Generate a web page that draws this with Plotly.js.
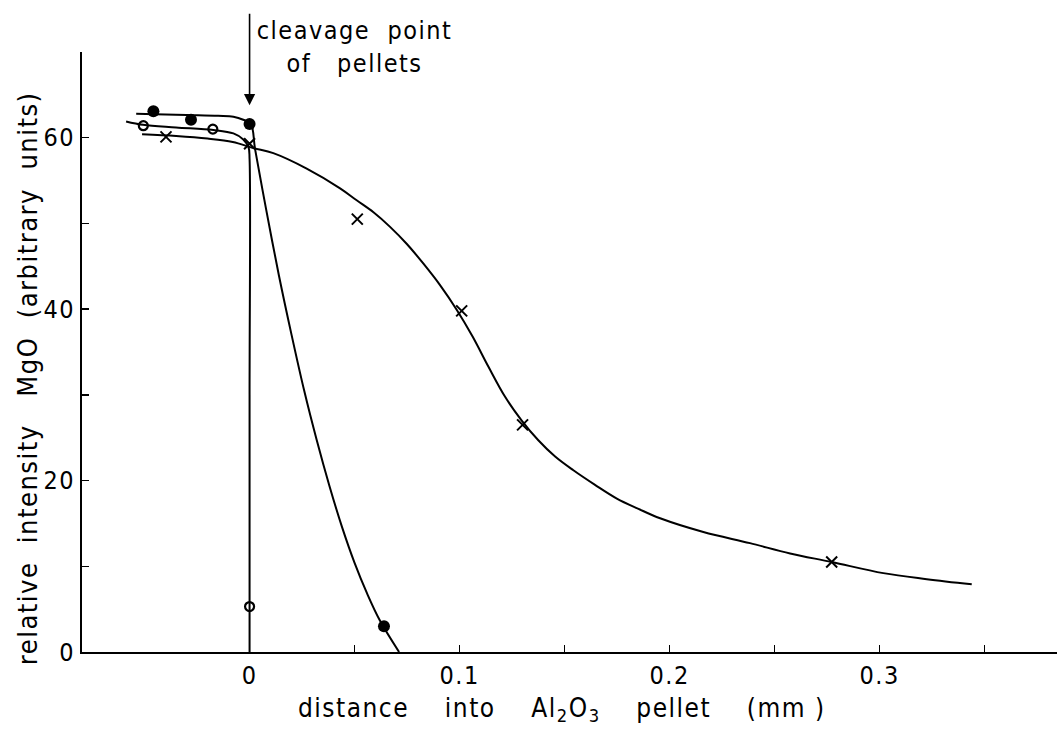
<!DOCTYPE html>
<html>
<head>
<meta charset="utf-8">
<script src="https://cdn.plot.ly/plotly-3.0.1.min.js"></script>
<style>
html,body{margin:0;padding:0;background:#fff;}
#chart{width:1057px;height:729px;}
#chart text{letter-spacing:1.5px;}
</style>
</head>
<body>
<div id="chart"></div>
<script>
// Measured points
var filledX = [-0.0458, -0.0279, 0.0, 0.064];
var filledY = [63.1, 62.1, 61.6, 3.0];
var openX = [-0.0506, -0.0175, 0.0];
var openY = [61.4, 61.0, 5.3];
var crossX = [-0.0398, 0.0, 0.0513, 0.101, 0.130, 0.2772];
var crossY = [60.1, 59.3, 50.5, 39.8, 26.5, 10.5];

// Hand-drawn fitted curves
var filledCurveX = [-0.054, -0.045, -0.03, -0.015, -0.0077, -0.003, 0.0006, 0.0026, 0.008, 0.014, 0.02, 0.026, 0.032, 0.038, 0.044, 0.05, 0.056, 0.062, 0.0712];
var filledCurveY = [62.8, 62.75, 62.65, 62.55, 62.45, 62.1, 61.6, 58.7, 51.5, 43.9, 37.0, 30.5, 24.7, 19.4, 14.6, 10.4, 6.8, 3.7, 0.0];
var openCurveX = [-0.0588, -0.0507, -0.035, -0.0172, -0.0077, -0.003, -0.0005, 0.0, 0.0, 0.0];
var openCurveY = [61.9, 61.5, 61.2, 60.9, 60.5, 59.8, 58.9, 57.5, 30.0, 0.0];
var crossCurveX = [-0.0512, -0.035, -0.02, -0.008, 0.0018, 0.0113, 0.0272, 0.0431, 0.051, 0.059, 0.0669, 0.0749, 0.0828, 0.0907, 0.0987, 0.1062, 0.1137, 0.1216, 0.1296, 0.1375, 0.1455, 0.1542, 0.1645, 0.1749, 0.1852, 0.1955, 0.2161, 0.2383, 0.2574, 0.2772, 0.3018, 0.3225, 0.3439];
var crossCurveY = [60.4, 60.2, 59.9, 59.5, 58.8, 58.2, 56.4, 54.1, 52.7, 51.3, 49.6, 47.6, 45.3, 42.8, 39.9, 36.8, 33.3, 29.8, 27.0, 24.7, 22.8, 21.2, 19.5, 17.9, 16.7, 15.6, 14.0, 12.7, 11.5, 10.5, 9.2, 8.5, 7.9];

var xTickVals = [0, 0.05, 0.1, 0.15, 0.2, 0.25, 0.3, 0.35];
var xTickText = ['0', '', '0.1', '', '0.2', '', '0.3', ''];
var yTickVals = [0, 10, 20, 30, 40, 50, 60, 70];
var yTickText = ['0', '', '20', '', '40', '', '60', ''];

var FONT = '"DejaVu Sans Condensed", "DejaVu Sans", sans-serif';
var SP = '\u00A0\u00A0\u00A0\u00A0';
var SP2 = '\u00A0\u00A0';
var SP3 = '\u00A0\u00A0\u00A0';
var lineStyle = {color: '#000', width: 2, shape: 'spline', smoothing: 1};

var traces = [
  {x: filledCurveX, y: filledCurveY, mode: 'lines', line: lineStyle, hoverinfo: 'skip'},
  {x: openCurveX, y: openCurveY, mode: 'lines', line: lineStyle, hoverinfo: 'skip'},
  {x: crossCurveX, y: crossCurveY, mode: 'lines', line: lineStyle, hoverinfo: 'skip'},
  {x: filledX, y: filledY, mode: 'markers', marker: {symbol: 'circle', size: 12, color: '#000'}},
  {x: openX, y: openY, mode: 'markers', marker: {symbol: 'circle-open', size: 9, color: '#000', line: {width: 2.2, color: '#000'}}},
  {x: crossX, y: crossY, mode: 'markers', marker: {symbol: 'x-thin-open', size: 11, color: '#000', line: {width: 2, color: '#000'}}}
];

var layout = {
  width: 1057, height: 729,
  margin: {l: 82, r: 0, t: 52, b: 77},
  paper_bgcolor: '#fff', plot_bgcolor: '#fff',
  showlegend: false,
  font: {family: FONT, color: '#000', size: 25},
  xaxis: {
    range: [-0.0798, 0.3845],
    showgrid: false, zeroline: false,
    showline: true, linecolor: '#000', linewidth: 2,
    ticks: 'inside', ticklen: 7, tickwidth: 1.5, tickcolor: '#000',
    tickvals: xTickVals, ticktext: xTickText,
    tickfont: {family: FONT, size: 25, color: '#000'}
  },
  yaxis: {
    range: [0, 70],
    showgrid: false, zeroline: false,
    showline: true, linecolor: '#000', linewidth: 2,
    ticks: 'inside', ticklen: 7, tickwidth: 1.5, tickcolor: '#000',
    tickvals: yTickVals, ticktext: yTickText,
    tickfont: {family: FONT, size: 25, color: '#000'}
  },
  annotations: [
    {x: 0, y: 63.8, xref: 'x', yref: 'y', text: '', showarrow: true,
     ax: 0, ay: -93, arrowhead: 2, arrowsize: 1.4, arrowwidth: 1.6, arrowcolor: '#000'},
    {x: 0.189, y: 1.0083, xref: 'paper', yref: 'paper', xanchor: 'left', yanchor: 'middle', align: 'center',
     text: 'cleavage\u00A0\u00A0point<br>of\u00A0\u00A0\u00A0pellets', showarrow: false,
     font: {family: FONT, size: 25, color: '#000'}},
    {x: 0.4923, y: -0.095, xref: 'paper', yref: 'paper', xanchor: 'center', yanchor: 'middle', showarrow: false,
     text: 'distance' + SP + 'into' + SP + 'Al<sub>2</sub>O<sub>3</sub>' + SP + 'pellet' + SP + '(mm\u00A0)',
     font: {family: FONT, size: 26, color: '#000'}},
    {x: -0.0564, y: 0.456, xref: 'paper', yref: 'paper', xanchor: 'center', yanchor: 'middle', showarrow: false, textangle: -90,
     text: 'relative' + SP2 + 'intensity' + SP3 + 'MgO' + SP2 + '(arbitrary' + SP2 + 'units)',
     font: {family: FONT, size: 27, color: '#000'}}
  ]
};

Plotly.newPlot('chart', traces, layout, {displayModeBar: false, staticPlot: true});
</script>
</body>
</html>
